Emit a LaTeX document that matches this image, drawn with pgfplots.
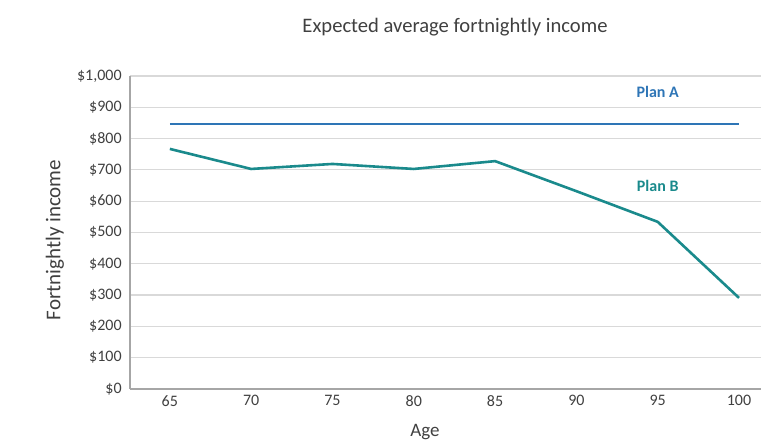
\documentclass[border=0pt]{standalone}
\usepackage{pgfplots}
\pgfplotsset{compat=1.18}
\usepackage{fontspec}
\setmainfont{Carlito}

\definecolor{planA}{HTML}{2E75B6}
\definecolor{planB}{HTML}{1A8A8C}
\definecolor{gridgray}{HTML}{D9D9D9}
\definecolor{axisgray}{HTML}{A6A6A6}
\definecolor{txtgray}{HTML}{404040}

% ages 65..100 placed at category positions 0..7
\pgfplotstableread{
pos income
0 767
1 703
2 719
3 703
4 728
5 632
6 534
7 291
}\planBdata

\pgfplotstableread{
pos income
0 848
7 848
}\planAdata

\begin{document}
\begin{tikzpicture}[x=0.5pt,y=0.5pt]
\useasboundingbox (-130,-59) rectangle (631,389);
\begin{axis}[
  at={(0,0)}, anchor=south west,
  scale only axis,
  width=315.5pt, height=156.5pt,
  xmin=-0.49, xmax=7.27,
  ymin=0, ymax=1000,
  xtick={0,...,7},
  xticklabels={65,70,75,80,85,90,95,100},
  major x tick style={draw=none},
  extra x ticks={0.5,1.5,...,6.5},
  extra x tick labels={},
  extra x tick style={major tick length=2.5pt, tick style={draw=axisgray, line width=0.6pt}},
  ytick={0,100,...,1000},
  yticklabel={\$\pgfmathprintnumber{\tick}},
  /pgf/number format/assume math mode=true,
  /pgf/number format/1000 sep={,},
  major y tick style={draw=none},
  ymajorgrids,
  grid style={draw=gridgray, line width=0.6pt},
  axis x line*=bottom, axis y line*=left,
  axis line style={draw=axisgray, line width=0.7pt, -},
  tick align=center,
  tick label style={font=\fontsize{8}{9}\selectfont, text=txtgray},
  xticklabel style={yshift=2.5pt},
  yticklabel style={xshift=1.5pt},
  clip=false,
]
\addplot[planA, line width=1pt] table[x=pos, y=income] {\planAdata};
\addplot[planB, line width=1.3pt] table[x=pos, y=income] {\planBdata};
\node[font=\bfseries\fontsize{8}{9}\selectfont, text=planA] at (axis cs:6,950) {Plan A};
\node[font=\bfseries\fontsize{8}{9}\selectfont, text=planB] at (axis cs:6,650) {Plan B};
\end{axis}
\node[font=\fontsize{10.3}{12}\selectfont, text=txtgray] at (325,362) {Expected average fortnightly income};
\node[font=\fontsize{10.5}{12}\selectfont, text=txtgray, rotate=90] at (-75,149) {Fortnightly income};
\node[font=\fontsize{9.5}{11}\selectfont, text=txtgray] at (295,-43) {Age};
\end{tikzpicture}
\end{document}
